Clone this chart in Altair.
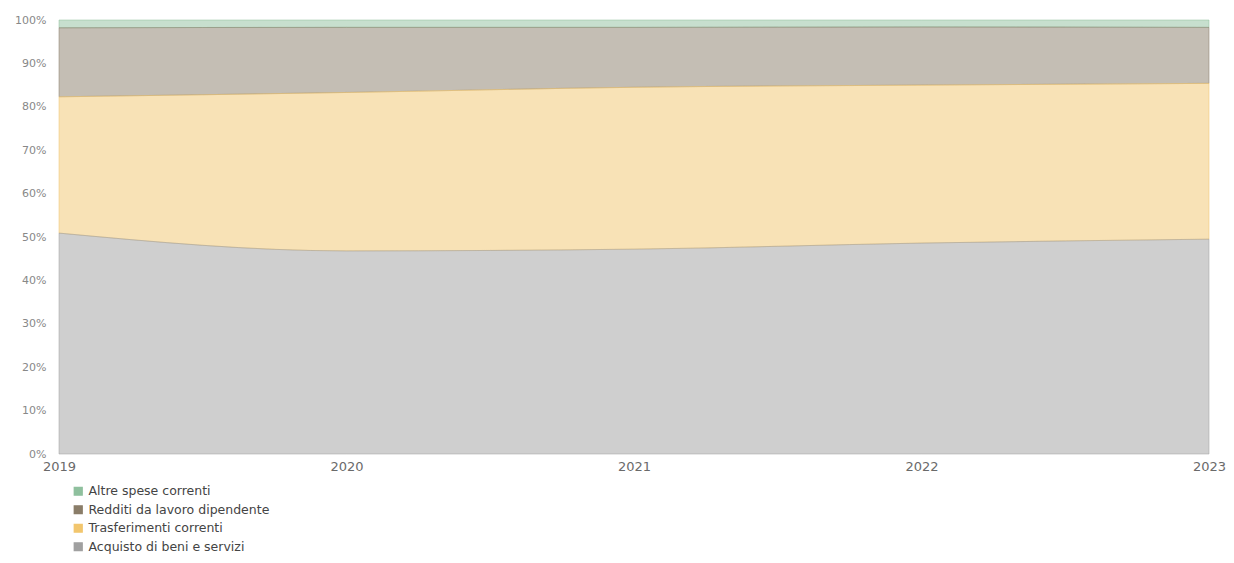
import altair as alt
import pandas as pd

years = [2019, 2020, 2021, 2022, 2023]
categories = ["Altre spese correnti", "Redditi da lavoro dipendente",
              "Trasferimenti correnti", "Acquisto di beni e servizi"]
altre = [1.8, 1.7, 1.7, 1.6, 1.7]
redditi = [15.9, 15.0, 13.8, 13.4, 12.9]
trasferimenti = [31.4, 36.5, 37.3, 36.4, 35.9]
acquisto = [50.9, 46.8, 47.2, 48.6, 49.5]
colors = ["#8fc09e", "#8a7d69", "#f2c66e", "#a0a0a0"]

series = {
    "Altre spese correnti": altre,
    "Redditi da lavoro dipendente": redditi,
    "Trasferimenti correnti": trasferimenti,
    "Acquisto di beni e servizi": acquisto,
}
order_map = {c: i for i, c in enumerate(categories)}
rows = []
for cat, vals in series.items():
    for y, v in zip(years, vals):
        rows.append({"anno": y, "categoria": cat, "valore": v, "ord": order_map[cat]})
df = pd.DataFrame(rows)

FONT = "DejaVu Sans"

chart = alt.Chart(df).mark_area(
    interpolate="monotone", fillOpacity=0.5, strokeWidth=1, strokeOpacity=0.5
).encode(
    x=alt.X("anno:Q", title=None,
            scale=alt.Scale(domain=[2019, 2023], nice=False, zero=False),
            axis=alt.Axis(values=years, format="d", ticks=False, domain=False, grid=False,
                          labelFlush=False, labelPadding=6, labelFont=FONT, labelFontSize=13,
                          labelColor="#6a6a6a")),
    y=alt.Y("valore:Q", stack="normalize", title=None,
            scale=alt.Scale(domain=[0, 1]),
            axis=alt.Axis(values=[i / 10 for i in range(11)], format=".0%", ticks=False,
                          domain=False, grid=False, labelPadding=13, labelFont=FONT,
                          labelFontSize=11, labelColor="#888888")),
    fill=alt.Fill("categoria:N", sort=categories,
                  scale=alt.Scale(domain=categories, range=colors),
                  legend=alt.Legend(title=None, orient="none", legendX=13, legendY=465,
                                    direction="vertical", symbolType="square", symbolSize=60,
                                    symbolOpacity=1, labelFont=FONT, labelFontSize=12.5,
                                    labelColor="#444444", labelLimit=0, rowPadding=3.5,
                                    padding=0)),
    stroke=alt.Stroke("categoria:N", scale=alt.Scale(domain=categories, range=colors),
                      legend=None),
    order=alt.Order("ord:Q", sort="descending"),
).properties(
    width=1150, height=434,
    autosize=alt.AutoSizeParams(type="none"),
    padding={"left": 51, "top": 12, "right": 17, "bottom": 101},
).configure_view(stroke=None)

chart.save("out.html", embed_options={"renderer": "svg", "actions": False})
